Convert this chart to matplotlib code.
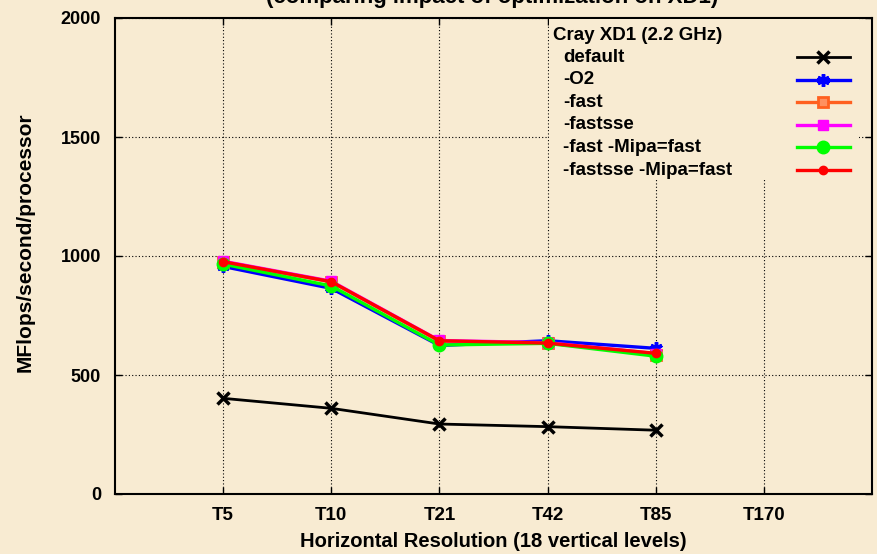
import matplotlib
matplotlib.use('Agg')
import matplotlib.pyplot as plt
from matplotlib.patches import Rectangle

plt.rcParams['font.family'] = ['Liberation Sans', 'DejaVu Sans']
plt.rcParams['font.weight'] = 'bold'

# data
resolutions = ['T5', 'T10', 'T21', 'T42', 'T85', 'T170']
measured = ['T5', 'T10', 'T21', 'T42', 'T85']

labels = ['default', '-O2', '-fast', '-fastsse', '-fast -Mipa=fast', '-fastsse -Mipa=fast']
default = [402, 360, 294, 283, 268]
o2 = [956, 864, 624, 644, 612]
fast = [975, 891, 642, 634, 586]
fastsse = [978, 894, 645, 636, 590]
fast_mipa = [966, 874, 626, 633, 579]
fastsse_mipa = [976, 892, 644, 634, 591]

series = [default, o2, fast, fastsse, fast_mipa, fastsse_mipa]
colors = ['black', '#0000FF', '#FF6020', '#FF00FF', '#00FF00', '#FF0000']
styles = [
    dict(marker='x', ms=8, mew=2.5, lw=2.0),
    dict(marker=(6, 2, 0), ms=9, mew=2.5, lw=2.4),
    dict(marker='s', ms=7, mew=2, mfc='#FF9060', lw=2.4),
    dict(marker='s', ms=7, mew=1, lw=2.4),
    dict(marker='o', ms=9, mew=1, lw=2.4),
    dict(marker='o', ms=6, mew=1, lw=2.4),
]

bg = '#F8EBD2'
fig = plt.figure(figsize=(8.78, 5.54), dpi=100, facecolor=bg)
ax = fig.add_axes([115 / 878, 60 / 554, 757 / 878, 476 / 554])
ax.set_facecolor(bg)

xpos = {r: i + 1 for i, r in enumerate(resolutions)}
xs = [xpos[r] for r in measured]

for vals, c, st in zip(series, colors, styles):
    ax.plot(xs, vals, color=c, mec=c, **st, zorder=3)

ax.set_xlim(0, len(resolutions) + 1)
ax.set_ylim(0, 2000)
ax.set_xticks(range(1, len(resolutions) + 1))
ax.set_xticklabels(resolutions)
ax.set_yticks([0, 500, 1000, 1500, 2000])

ax.grid(True, color='black', linestyle=(0, (1, 2)), linewidth=0.8)
ax.tick_params(direction='in', top=True, right=True, length=5, width=1, pad=10)
ax.tick_params(axis='x', labelsize=13.5, pad=9)
ax.tick_params(axis='y', labelsize=13)
for lab in ax.get_xticklabels() + ax.get_yticklabels():
    lab.set_fontweight('bold')
for s in ax.spines.values():
    s.set_linewidth(1.5)

ax.set_xlabel('Horizontal Resolution (18 vertical levels)', fontsize=14.5,
              fontweight='bold', labelpad=6)
ax.set_ylabel('MFlops/second/processor', fontsize=15, fontweight='bold')
ax.yaxis.set_label_coords(-0.106, 0.53)

fig.text(0.56, 0.9946, '(comparing impact of optimization on XD1)',
         ha='center', va='baseline', fontsize=16, fontweight='bold')

# gnuplot-style key: text left, samples right
ax.add_patch(Rectangle((0.573, 0.66), 0.41, 0.337, transform=ax.transAxes,
                       facecolor=bg, edgecolor='none', zorder=4))
ax.text(0.5786, 0.964, 'Cray XD1 (2.2 GHz)', transform=ax.transAxes,
        ha='left', va='center', fontsize=13.5, fontweight='bold', zorder=5)
y0 = 0.918
dy = 0.0475
for i, (lab, c, st) in enumerate(zip(labels, colors, styles)):
    y = y0 - i * dy
    ax.text(0.5918, y, lab, transform=ax.transAxes, ha='left', va='center',
            fontsize=13.5, fontweight='bold', zorder=5)
    ax.plot([0.901, 0.971], [y, y], color=c, lw=st['lw'],
            transform=ax.transAxes, zorder=5, clip_on=False)
    mk = {k: v for k, v in st.items() if k != 'lw'}
    ax.plot([0.935], [y], color=c, mec=c, lw=0, transform=ax.transAxes,
            zorder=6, clip_on=False, **mk)

fig.savefig('out.png', dpi=100, facecolor=bg)
